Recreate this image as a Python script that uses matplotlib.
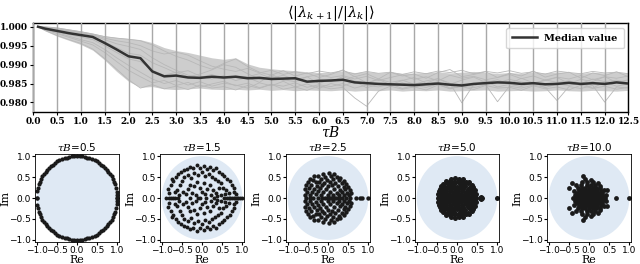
import numpy as np
import matplotlib.pyplot as plt
from matplotlib.patches import Circle

plt.rcParams['mathtext.fontset'] = 'dejavuserif'

# ---- top panel: ratio of consecutive eigenvalue moduli vs tau*B ----
tau = [0.1] + list(np.arange(0.25, 12.51, 0.25))

median = [1.0000, 0.9995, 0.9989, 0.9983, 0.9978, 0.9973, 0.9957, 0.9940, 0.9922,
          0.9917, 0.9882, 0.9869, 0.9871, 0.9866, 0.9865, 0.9868, 0.9866,
          0.9868, 0.9864, 0.9865, 0.9862, 0.9863, 0.9864, 0.9855, 0.9857,
          0.9858, 0.9860, 0.9853, 0.9851, 0.9849, 0.9848, 0.9847, 0.9846,
          0.9848, 0.9850, 0.9847, 0.9845, 0.9849, 0.9851, 0.9853, 0.9852,
          0.9849, 0.9851, 0.9848, 0.9849, 0.9852, 0.9849, 0.9851, 0.9849,
          0.9853, 0.9850]

band_hi = [1.0002, 1.0001, 0.9999, 0.9994, 0.9989, 0.9983, 0.9976, 0.9972, 0.9969,
           0.9966, 0.9958, 0.9945, 0.9937, 0.9932, 0.9925, 0.9918, 0.9914,
           0.9918, 0.9902, 0.9893, 0.9889, 0.9886, 0.9884, 0.9881, 0.9879,
           0.9880, 0.9883, 0.9879, 0.9882, 0.9878, 0.9880, 0.9877, 0.9878,
           0.9879, 0.9881, 0.9878, 0.9880, 0.9882, 0.9879, 0.9877, 0.9879,
           0.9877, 0.9880, 0.9878, 0.9881, 0.9879, 0.9877, 0.9880, 0.9878,
           0.9880, 0.9877]

band_lo = [0.9999, 0.9989, 0.9975, 0.9964, 0.9953, 0.9938, 0.9912, 0.9882, 0.9856,
           0.9840, 0.9842, 0.9836, 0.9834, 0.9836, 0.9838, 0.9835, 0.9834,
           0.9835, 0.9833, 0.9835, 0.9832, 0.9834, 0.9831, 0.9833, 0.9832,
           0.9831, 0.9833, 0.9830, 0.9832, 0.9831, 0.9833, 0.9830, 0.9832,
           0.9831, 0.9833, 0.9830, 0.9831, 0.9832, 0.9833, 0.9830, 0.9831,
           0.9832, 0.9830, 0.9831, 0.9833, 0.9831, 0.9830, 0.9832, 0.9831,
           0.9830, 0.9832]

runs = [
    [1.0000, 1.0000, 0.9997, 0.9992, 0.9987, 0.9981, 0.9974, 0.9970, 0.9967,
     0.9963, 0.9952, 0.9936, 0.9922, 0.9912, 0.9898, 0.9888, 0.9903,
     0.9915, 0.9895, 0.9880, 0.9872, 0.9884, 0.9870, 0.9878, 0.9866,
     0.9874, 0.9886, 0.9868, 0.9876, 0.9862, 0.9880, 0.9870, 0.9875,
     0.9864, 0.9879, 0.9887, 0.9868, 0.9874, 0.9881, 0.9866, 0.9877,
     0.9870, 0.9883, 0.9867, 0.9875, 0.9880, 0.9864, 0.9878, 0.9871,
     0.9881, 0.9868],
    [1.0000, 0.9990, 0.9977, 0.9966, 0.9956, 0.9941, 0.9916, 0.9888, 0.9860,
     0.9838, 0.9847, 0.9836, 0.9843, 0.9834, 0.9846, 0.9838, 0.9842,
     0.9833, 0.9845, 0.9837, 0.9848, 0.9835, 0.9841, 0.9832, 0.9844,
     0.9836, 0.9840, 0.9812, 0.9790, 0.9830, 0.9843, 0.9835, 0.9841,
     0.9833, 0.9846, 0.9837, 0.9842, 0.9834, 0.9845, 0.9838, 0.9840,
     0.9832, 0.9844, 0.9836, 0.9841, 0.9833, 0.9846, 0.9837, 0.9843,
     0.9835, 0.9840],
    [1.0000, 0.9994, 0.9986, 0.9979, 0.9973, 0.9966, 0.9950, 0.9932, 0.9915,
     0.9908, 0.9885, 0.9872, 0.9880, 0.9868, 0.9875, 0.9886, 0.9900,
     0.9893, 0.9876, 0.9862, 0.9870, 0.9858, 0.9866, 0.9852, 0.9861,
     0.9855, 0.9868, 0.9857, 0.9850, 0.9862, 0.9853, 0.9859, 0.9848,
     0.9857, 0.9863, 0.9851, 0.9799, 0.9848, 0.9858, 0.9852, 0.9861,
     0.9854, 0.9849, 0.9860, 0.9853, 0.9857, 0.9850, 0.9862, 0.9855,
     0.9859, 0.9852],
    [1.0000, 0.9997, 0.9993, 0.9988, 0.9983, 0.9977, 0.9966, 0.9955, 0.9948,
     0.9940, 0.9918, 0.9900, 0.9885, 0.9872, 0.9866, 0.9874, 0.9862,
     0.9870, 0.9868, 0.9876, 0.9864, 0.9872, 0.9860, 0.9868, 0.9874,
     0.9866, 0.9871, 0.9862, 0.9869, 0.9858, 0.9866, 0.9873, 0.9861,
     0.9868, 0.9857, 0.9872, 0.9864, 0.9869, 0.9860, 0.9866, 0.9874,
     0.9863, 0.9870, 0.9859, 0.9867, 0.9862, 0.9871, 0.9860, 0.9868,
     0.9864, 0.9870],
    [1.0000, 0.9992, 0.9982, 0.9972, 0.9962, 0.9952, 0.9932, 0.9908, 0.9885,
     0.9868, 0.9852, 0.9858, 0.9845, 0.9853, 0.9840, 0.9849, 0.9856,
     0.9844, 0.9851, 0.9839, 0.9848, 0.9843, 0.9852, 0.9840, 0.9847,
     0.9842, 0.9850, 0.9838, 0.9846, 0.9841, 0.9849, 0.9837, 0.9845,
     0.9840, 0.9848, 0.9836, 0.9844, 0.9839, 0.9847, 0.9802, 0.9843,
     0.9838, 0.9846, 0.9840, 0.9805, 0.9842, 0.9837, 0.9845, 0.9801,
     0.9841, 0.9838],
    [1.0000, 0.9998, 0.9995, 0.9990, 0.9985, 0.9979, 0.9970, 0.9963, 0.9958,
     0.9950, 0.9936, 0.9928, 0.9933, 0.9925, 0.9910, 0.9896, 0.9888,
     0.9882, 0.9890, 0.9878, 0.9885, 0.9874, 0.9881, 0.9876, 0.9883,
     0.9878, 0.9884, 0.9875, 0.9882, 0.9877, 0.9880, 0.9874, 0.9881,
     0.9876, 0.9883, 0.9879, 0.9885, 0.9876, 0.9882, 0.9878, 0.9884,
     0.9877, 0.9881, 0.9875, 0.9883, 0.9879, 0.9876, 0.9882, 0.9878,
     0.9880, 0.9876],
    [1.0000, 0.9996, 0.9990, 0.9984, 0.9979, 0.9972, 0.9960, 0.9945, 0.9930,
     0.9925, 0.9905, 0.9892, 0.9878, 0.9884, 0.9870, 0.9862, 0.9871,
     0.9858, 0.9866, 0.9853, 0.9874, 0.9860, 0.9855, 0.9868, 0.9850,
     0.9862, 0.9857, 0.9869, 0.9852, 0.9861, 0.9847, 0.9858, 0.9866,
     0.9851, 0.9863, 0.9848, 0.9859, 0.9867, 0.9853, 0.9860, 0.9849,
     0.9864, 0.9852, 0.9858, 0.9866, 0.9850, 0.9861, 0.9855, 0.9868,
     0.9853, 0.9860],
    [1.0000, 0.9993, 0.9984, 0.9975, 0.9966, 0.9958, 0.9940, 0.9918, 0.9898,
     0.9880, 0.9862, 0.9850, 0.9858, 0.9846, 0.9855, 0.9843, 0.9851,
     0.9846, 0.9838, 0.9852, 0.9844, 0.9856, 0.9841, 0.9849, 0.9837,
     0.9850, 0.9843, 0.9855, 0.9839, 0.9848, 0.9844, 0.9852, 0.9840,
     0.9847, 0.9855, 0.9838, 0.9850, 0.9843, 0.9856, 0.9841, 0.9848,
     0.9842, 0.9853, 0.9839, 0.9849, 0.9845, 0.9851, 0.9838, 0.9854,
     0.9843, 0.9849],
]

# ---- bottom panels: eigenvalues in the complex plane ----
panel_titles = [r'$\tau B$=0.5', r'$\tau B$=1.5', r'$\tau B$=2.5', r'$\tau B$=5.0', r'$\tau B$=10.0']

# tauB = 0.5: eigenvalues on the unit circle, upper-half angles in degrees
circle_angles = [0, 4, 8, 14, 19, 23, 27, 31, 35, 39, 42, 46, 50, 53, 57, 61, 64, 68,
                 72, 75, 79, 83, 86, 90, 94, 97, 101, 105, 108, 112, 116, 119, 123,
                 127, 130, 134, 138, 141, 145, 149, 153, 157, 161, 166, 171, 180]

# upper half-plane points (x, y); conjugates are mirrored below the real axis
pts_15 = [(-0.82, 0.12), (-0.85, 0.22), (-0.78, 0.30), (-0.72, 0.40), (-0.75, 0.45),
          (-0.65, 0.50), (-0.60, 0.58), (-0.52, 0.62), (-0.45, 0.68), (-0.38, 0.70),
          (-0.30, 0.75), (-0.22, 0.72), (-0.12, 0.78), (-0.05, 0.72), (0.05, 0.76),
          (0.12, 0.70), (0.20, 0.74), (0.28, 0.68), (0.35, 0.72), (0.42, 0.62),
          (0.50, 0.58), (0.55, 0.52), (0.62, 0.46), (0.70, 0.40), (0.75, 0.32),
          (0.80, 0.24), (0.78, 0.15), (0.85, 0.10),
          (-0.62, 0.20), (-0.55, 0.30), (-0.50, 0.40), (-0.45, 0.50), (-0.35, 0.55),
          (-0.28, 0.48), (-0.20, 0.60), (-0.10, 0.55), (0.00, 0.62), (0.08, 0.52),
          (0.18, 0.58), (0.25, 0.50), (0.32, 0.45), (0.40, 0.40), (0.48, 0.35),
          (0.52, 0.25), (0.60, 0.20), (0.58, 0.10), (0.66, 0.12), (-0.58, 0.08),
          (-0.48, 0.15), (-0.68, 0.14),
          (-0.40, 0.10), (-0.35, 0.22), (-0.30, 0.32), (-0.20, 0.28), (-0.12, 0.38),
          (-0.05, 0.25), (0.05, 0.35), (0.12, 0.22), (0.20, 0.30), (0.28, 0.20),
          (0.35, 0.12), (0.42, 0.25), (-0.25, 0.12), (-0.15, 0.08), (0.08, 0.10),
          (0.22, 0.08), (0.38, 0.05), (0.48, 0.08), (0.00, 0.15)]
real_15 = [-0.88, -0.82, -0.78, -0.72, -0.66, -0.60, -0.30, -0.10, -0.05, 0.10, 0.30,
           0.55, 0.62, 0.66, 0.70, 0.74, 0.78, 0.82, 0.86, 0.90, 0.94, 0.98]

pts_25 = [(-0.12, 0.58), (0.02, 0.60), (0.15, 0.57),
          (-0.35, 0.52), (-0.25, 0.53), (-0.08, 0.51), (0.08, 0.52), (0.22, 0.50), (0.30, 0.48),
          (-0.45, 0.45), (-0.38, 0.44), (-0.18, 0.46), (-0.02, 0.44), (0.12, 0.45), (0.28, 0.43), (0.40, 0.40),
          (-0.50, 0.38), (-0.30, 0.37), (-0.22, 0.39), (-0.10, 0.36), (0.05, 0.38), (0.18, 0.36),
          (0.35, 0.35), (0.45, 0.33),
          (-0.55, 0.30), (-0.42, 0.31), (-0.28, 0.29), (-0.15, 0.30), (0.00, 0.28), (0.10, 0.31),
          (0.25, 0.29), (0.40, 0.27), (0.50, 0.26),
          (-0.58, 0.22), (-0.48, 0.23), (-0.35, 0.21), (-0.20, 0.23), (-0.05, 0.21), (0.15, 0.22),
          (0.30, 0.20), (0.42, 0.21), (0.55, 0.19),
          (-0.52, 0.15), (-0.40, 0.14), (-0.25, 0.16), (-0.12, 0.14), (0.05, 0.15), (0.22, 0.13),
          (0.35, 0.15), (0.48, 0.13), (0.58, 0.12),
          (-0.56, 0.08), (-0.44, 0.07), (-0.30, 0.09), (-0.18, 0.07), (0.00, 0.08), (0.12, 0.06),
          (0.28, 0.08), (0.40, 0.07), (0.52, 0.06)]
real_25 = [-0.55, -0.45, -0.38, -0.25, -0.15, -0.08, 0.0, 0.05, 0.10, 0.15, 0.20, 0.28,
           0.35, 0.45, 0.55, 0.70, 0.78, 0.85, 1.0]

pts_50 = [(-0.15, 0.46), (-0.05, 0.47), (0.05, 0.45), (0.15, 0.46),
          (-0.28, 0.40), (-0.18, 0.41), (-0.08, 0.39), (0.02, 0.41), (0.12, 0.40), (0.22, 0.39), (0.30, 0.38),
          (-0.35, 0.34), (-0.25, 0.35), (-0.14, 0.33), (-0.04, 0.35), (0.08, 0.34), (0.18, 0.33),
          (0.28, 0.35), (0.36, 0.32),
          (-0.40, 0.28), (-0.30, 0.27), (-0.20, 0.29), (-0.10, 0.28), (0.00, 0.27), (0.10, 0.29),
          (0.20, 0.28), (0.32, 0.27), (0.40, 0.26),
          (-0.43, 0.22), (-0.34, 0.21), (-0.24, 0.23), (-0.14, 0.22), (-0.04, 0.21), (0.06, 0.23),
          (0.16, 0.22), (0.26, 0.21), (0.36, 0.22), (0.44, 0.20),
          (-0.45, 0.16), (-0.36, 0.15), (-0.27, 0.17), (-0.18, 0.16), (-0.08, 0.15), (0.02, 0.17),
          (0.12, 0.16), (0.22, 0.15), (0.32, 0.17), (0.42, 0.15),
          (-0.46, 0.10), (-0.38, 0.09), (-0.30, 0.11), (-0.20, 0.10), (-0.10, 0.09), (0.00, 0.11),
          (0.10, 0.10), (0.20, 0.09), (0.30, 0.11), (0.40, 0.10), (0.46, 0.09),
          (-0.44, 0.04), (-0.34, 0.05), (-0.24, 0.04), (-0.14, 0.05), (-0.04, 0.04), (0.06, 0.05),
          (0.16, 0.04), (0.26, 0.05), (0.36, 0.04), (0.45, 0.05), (0.60, 0.02)]
real_50 = [-0.46, -0.40, -0.30, -0.20, -0.10, 0.0, 0.10, 0.20, 0.30, 0.40, 0.46,
           0.58, 0.60, 0.62, 1.0]

pts_100 = [(-0.30, 0.02), (-0.22, 0.03), (-0.15, 0.02), (-0.08, 0.03), (0.00, 0.02), (0.06, 0.03),
           (0.12, 0.02), (0.20, 0.03), (0.28, 0.02), (0.36, 0.03),
           (-0.34, 0.07), (-0.25, 0.08), (-0.18, 0.07), (-0.11, 0.08), (-0.04, 0.07), (0.03, 0.08),
           (0.10, 0.07), (0.17, 0.08), (0.25, 0.07), (0.33, 0.08), (0.42, 0.07),
           (-0.30, 0.12), (-0.21, 0.13), (-0.14, 0.12), (-0.07, 0.13), (0.00, 0.12), (0.08, 0.13),
           (0.15, 0.12), (0.23, 0.13), (0.31, 0.12),
           (-0.36, 0.17), (-0.26, 0.18), (-0.17, 0.17), (-0.10, 0.18), (-0.03, 0.17), (0.05, 0.18),
           (0.12, 0.17), (0.20, 0.18), (0.29, 0.17), (0.38, 0.18),
           (-0.28, 0.23), (-0.18, 0.24), (-0.09, 0.23), (0.00, 0.24), (0.09, 0.23), (0.18, 0.24),
           (0.27, 0.23),
           (-0.32, 0.30), (-0.20, 0.31), (-0.06, 0.30), (0.06, 0.31), (0.16, 0.30), (0.28, 0.29),
           (-0.18, 0.37), (-0.04, 0.38), (0.10, 0.37), (0.22, 0.36),
           (-0.10, 0.45), (0.05, 0.44), (-0.14, 0.53),
           (-0.50, 0.25), (0.45, 0.20), (-0.42, 0.35)]
real_100 = [-0.40, -0.32, -0.24, -0.16, -0.08, 0.0, 0.08, 0.16, 0.24, 0.32, 0.40, 0.66, 1.0]

fig = plt.figure(figsize=(6.4, 2.64), dpi=100)

ax = fig.add_axes([0.052, 0.576, 0.93, 0.337])
ax.fill_between(tau, band_lo, band_hi, color='#cdcdcd', lw=0, zorder=1)
for r in runs:
    ax.plot(tau, r, color='#b8b8b8', lw=0.6, zorder=1)
ax.plot(tau, median, color='#333333', lw=1.8, label='Median value', zorder=5)
ax.set_xlim(0, 12.5)
ax.set_ylim(0.9775, 1.001)
xt = np.arange(0, 12.51, 0.5)
yt = [0.980, 0.985, 0.990, 0.995, 1.000]
ax.set_xticks(xt)
ax.set_yticks(yt)
ax.set_xticklabels([f'{v:.1f}' for v in xt], fontfamily='DejaVu Serif', fontweight='bold', fontsize=6.5)
ax.set_yticklabels([f'{v:.3f}' for v in yt], fontfamily='DejaVu Serif', fontweight='bold', fontsize=6.5)
ax.grid(True, axis='x', color='#a8a8a8', lw=1, zorder=2)
ax.set_axisbelow(False)
ax.tick_params(length=2, pad=2)
ax.set_xlabel(r'$\tau B$', fontsize=10, labelpad=-1)
ax.set_title(r'$\langle|\lambda_{k+1}|/|\lambda_k|\rangle$', fontsize=10.5, pad=4)
leg = ax.legend(loc='upper right', prop={'family': 'DejaVu Serif', 'weight': 'bold', 'size': 7},
                handlelength=2.5, borderpad=0.6)
leg.set_zorder(10)
for s in ax.spines.values():
    s.set_linewidth(1.0)


def mirror(upper, real):
    xs = [p[0] for p in upper] + [p[0] for p in upper] + list(real)
    ys = [p[1] for p in upper] + [-p[1] for p in upper] + [0.0] * len(real)
    return xs, ys


ang = np.deg2rad(circle_angles)
cx = list(np.cos(ang)) + list(np.cos(ang))
cy = list(np.sin(ang)) + list(-np.sin(ang))

panel_data = [(cx, cy), mirror(pts_15, real_15), mirror(pts_25, real_25),
              mirror(pts_50, real_50), mirror(pts_100, real_100)]
lefts = [35, 160, 286, 415, 547]
sizes = [9, 8, 10, 13, 12]

for i, (xs, ys) in enumerate(panel_data):
    a = fig.add_axes([lefts[i] / 640, 22 / 264, 84 / 640, 88 / 264])
    a.add_patch(Circle((0, 0), 1.0, color='#dfe9f4', lw=0, zorder=0))
    a.scatter(xs, ys, s=sizes[i], color='#1a1a1a', lw=0, zorder=2)
    a.set_xlim(-1.04, 1.04)
    a.set_ylim(-1.05, 1.05)
    a.set_xticks([-1.0, -0.5, 0.0, 0.5, 1.0])
    a.set_yticks([-1.0, -0.5, 0.0, 0.5, 1.0])
    a.tick_params(labelsize=6.5, length=2, pad=1)
    a.set_xlabel('Re', fontfamily='DejaVu Serif', fontsize=8, labelpad=0)
    a.set_ylabel('Im', fontfamily='DejaVu Serif', fontsize=8, labelpad=-1)
    a.set_title(panel_titles[i], fontsize=7.5, pad=2)
    for s in a.spines.values():
        s.set_linewidth(0.6)

fig.savefig('out.png', dpi=100)
